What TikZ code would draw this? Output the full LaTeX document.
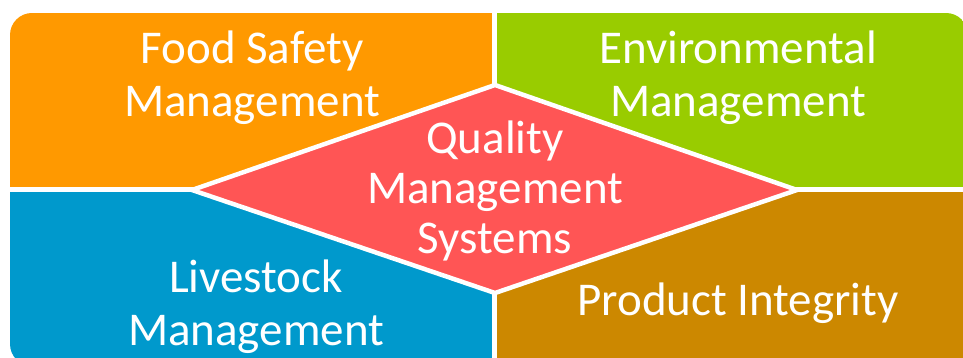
\documentclass[tikz,border=0pt]{standalone}
\usepackage{fontspec}
\setmainfont{Carlito}
\definecolor{qorange}{RGB}{255,153,0}
\definecolor{qgreen}{RGB}{153,204,0}
\definecolor{qblue}{RGB}{0,153,204}
\definecolor{qgold}{RGB}{204,136,0}
\definecolor{qred}{RGB}{255,85,85}
\tikzset{
  lbl/.style={text=white, font=\fontsize{47}{53}\selectfont, align=center, anchor=base, inner sep=0pt},
  divider/.style={white, line width=5pt},
  diamondedge/.style={draw=white, line width=4.5pt, fill=qred, line join=miter}
}
\begin{document}
\begin{tikzpicture}[x=1pt,y=-1pt]
\useasboundingbox (0,0) rectangle (963,358);
\begin{scope}
  \clip[rounded corners=22pt] (10,13) rectangle (968,366);
  \fill[qorange] (10,13) rectangle (494,190);
  \fill[qgreen] (494,13) rectangle (968,190);
  \fill[qblue] (10,190) rectangle (494,366);
  \fill[qgold] (494,190) rectangle (968,366);
  \draw[divider] (494,13) -- (494,366);
  \draw[divider] (10,190) -- (968,190);
\end{scope}
\coordinate (dl) at (192,190);
\coordinate (dt) at (495,85);
\coordinate (dr) at (797,190);
\coordinate (db) at (495,293);
\draw[diamondedge] (dl) -- (dt) -- (dr) -- (db) -- cycle;
\node[lbl] (food) at (252,117) {Food Safety\\Management};
\node[lbl] (env) at (738,117) {Environmental\\Management};
\node[lbl, font=\fontsize{47}{50}\selectfont] (qms) at (495,253) {Quality\\Management\\Systems};
\node[lbl] (live) at (256,345) {Livestock\\Management};
\node[lbl] (prod) at (738,315) {Product Integrity};
\end{tikzpicture}
\end{document}
